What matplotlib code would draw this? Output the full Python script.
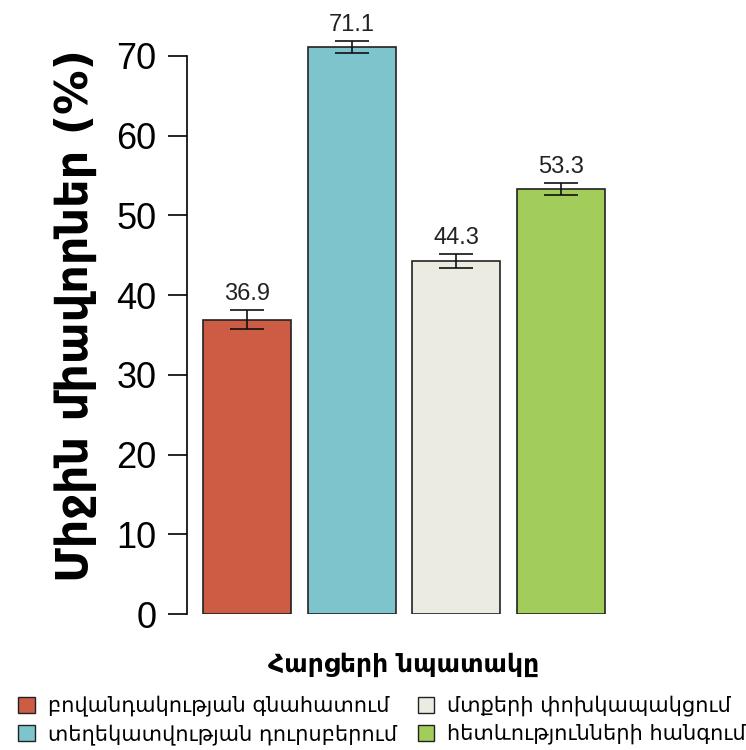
import matplotlib
matplotlib.use("Agg")
import matplotlib.pyplot as plt
from matplotlib.patches import Patch

categories = ["բովանդակության գնահատում", "տեղեկատվության դուրսբերում",
              "մտքերի փոխկապակցում", "հետևությունների հանգում"]
means = [36.9, 71.1, 44.3, 53.3]
errors = [1.2, 0.8, 0.9, 0.8]
colors = ["#CD5C45", "#7DC4CC", "#EBEBE1", "#A2CD5A"]
yticks = [0, 10, 20, 30, 40, 50, 60, 70]

num_font = ["Liberation Sans", "DejaVu Sans"]
arm_font = ["DejaVu Sans"]

W, H = 746, 750
fig = plt.figure(figsize=(W / 100, H / 100), dpi=100)
# axes placed in pixel terms: spine at x=187, y=0 at 614
ax = fig.add_axes([187 / W, (H - 614) / H, 434 / W, (614 - 16) / H])

x = list(range(len(means)))
ax.bar(x, means, width=0.84, color=colors, edgecolor="#222222", linewidth=1.2)
ax.errorbar(x, means, yerr=errors, fmt="none", ecolor="#111111",
            elinewidth=1.2, capsize=12.5, capthick=1.2)
for xi, m, e in zip(x, means, errors):
    ax.text(xi, m + e + 0.6, f"{m}", ha="center", va="bottom",
            fontsize=17, family=num_font, color="#222222")

ax.set_xlim(-0.573, 3.572)
ax.set_ylim(0, 75)
ax.set_yticks(yticks)
ax.tick_params(axis="y", direction="out", length=14, width=1.2, pad=8,
               labelsize=26)
for lab in ax.get_yticklabels():
    lab.set_family(num_font)
ax.set_xticks([])
for s in ["top", "right", "bottom"]:
    ax.spines[s].set_visible(False)
ax.spines["left"].set_bounds(0, 70)
ax.spines["left"].set_linewidth(1.2)
ax.set_ylabel("Միջին միավորներ (%)", family=arm_font, fontsize=32,
              fontweight="bold", labelpad=14)
ax.set_xlabel("Հարցերի նպատակը", family=arm_font, fontsize=18,
              fontweight="bold", labelpad=28)

handles = [Patch(facecolor=c, edgecolor="#222222", linewidth=1.0) for c in colors]
fig.legend(handles, categories, loc="lower center", ncol=2,
           bbox_to_anchor=(0.512, -0.018), frameon=False,
           prop={"family": arm_font, "size": 15},
           handlelength=0.8, handleheight=0.8, columnspacing=1.0,
           labelspacing=0.35, handletextpad=0.6)

fig.savefig("out.png", dpi=100)
